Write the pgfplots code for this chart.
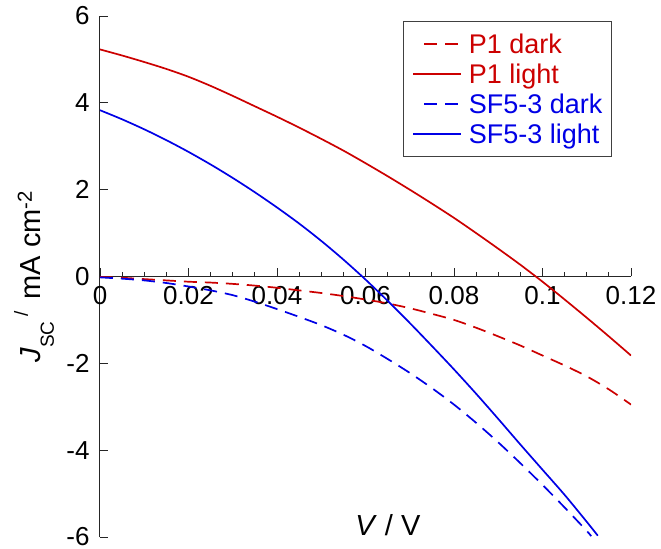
\documentclass[border=0pt]{standalone}
\usepackage{fontspec}
\setmainfont{Liberation Sans}
\usepackage{pgfplots}
\pgfplotsset{compat=1.18}

\definecolor{pred}{RGB}{204,0,0}
\definecolor{sblue}{RGB}{0,0,230}

\begin{document}
\begin{tikzpicture}
\begin{axis}[
    name=ax,
    scale only axis,
    width=531pt, height=521pt,
    xmin=0, xmax=0.12, ymin=-6, ymax=6,
    axis x line*=middle, axis y line*=left,
    axis line style={line width=1pt, black!85},
    hide obscured x ticks=false, hide obscured y ticks=false,
    xtick={0,0.02,0.04,0.06,0.08,0.1,0.12},
    xticklabels={0,0.02,0.04,0.06,0.08,0.1,0.12},
    minor x tick num=3,
    ytick={-6,-4,-2,0,2,4,6},
    yticklabels={-6,-4,-2,0,2,4,6},
    tick align=inside,
    major tick length=8pt, minor tick length=4pt,
    tick style={line width=0.9pt, black!85},
    tick label style={font=\fontsize{26}{30}\selectfont},
    xticklabel style={yshift=-6pt},
    yticklabel style={xshift=-7pt},
    every axis x label/.style={at={(axis description cs:0.542,0.023)}, anchor=center},
    every axis y label/.style={at={(axis description cs:-0.124,0.5)}, rotate=90, anchor=center},
    label style={font=\fontsize{29}{34}\selectfont},
    xlabel={\textit{V} / V},
    ylabel={\textit{J}\raisebox{-0.45em}{\fontsize{19}{19}\selectfont SC}\,%
      \raisebox{0.45em}{\fontsize{19}{19}\selectfont /}\hspace{12pt}mA cm\textsuperscript{-2}},
    legend style={at={(0.964,0.990)}, anchor=north east,
        font=\fontsize{27}{30}\selectfont, draw=black!75, line width=0.8pt,
        inner xsep=9pt, inner ysep=12pt, row sep=9pt,
        nodes={inner sep=0pt},
        /tikz/every odd column/.append style={column sep=7pt}},
    legend cell align=left,
    legend image code/.code={\draw[#1, line width=1.7pt] (0pt,0) -- (48pt,0);},
    every axis plot/.append style={line width=1.7pt, smooth, tension=0.5},
]
\addplot[pred, dash pattern=on 13pt off 8pt,
    legend image post style={dash pattern=on 0pt off 11pt on 13pt off 8pt on 13pt off 3pt}]
  coordinates {
  (0,-0.01) (0.005,-0.03) (0.01,-0.06) (0.015,-0.09) (0.02,-0.12)
  (0.025,-0.14) (0.03,-0.17) (0.035,-0.21) (0.04,-0.26) (0.045,-0.32)
  (0.05,-0.38) (0.055,-0.45) (0.06,-0.53) (0.065,-0.62) (0.07,-0.73)
  (0.075,-0.86) (0.08,-1.00) (0.085,-1.18) (0.09,-1.38) (0.095,-1.59)
  (0.1,-1.82) (0.105,-2.05) (0.11,-2.30) (0.115,-2.60) (0.12,-2.95)
};
\addlegendentry{\textcolor{pred}{P1 dark}}
\addplot[pred]
  coordinates {
  (0,5.23) (0.005,5.09) (0.01,4.94) (0.015,4.78) (0.02,4.60)
  (0.025,4.39) (0.03,4.16) (0.035,3.92) (0.04,3.68) (0.045,3.43)
  (0.05,3.17) (0.055,2.90) (0.06,2.61) (0.065,2.31) (0.07,2.00)
  (0.075,1.68) (0.08,1.35) (0.085,1.00) (0.09,0.64) (0.095,0.27)
  (0.1,-0.12) (0.105,-0.53) (0.11,-0.95) (0.115,-1.38) (0.12,-1.82)
};
\addlegendentry{\textcolor{pred}{P1 light}}
\addplot[sblue, dash pattern=on 13pt off 8pt,
    legend image post style={dash pattern=on 0pt off 11pt on 13pt off 8pt on 13pt off 3pt}]
  coordinates {
  (0,-0.02) (0.005,-0.05) (0.01,-0.09) (0.015,-0.15) (0.02,-0.23)
  (0.025,-0.32) (0.03,-0.43) (0.035,-0.58) (0.04,-0.75) (0.045,-0.93)
  (0.05,-1.12) (0.055,-1.34) (0.06,-1.60) (0.065,-1.90) (0.07,-2.22)
  (0.075,-2.57) (0.08,-2.95) (0.085,-3.37) (0.09,-3.82) (0.095,-4.30)
  (0.1,-4.80) (0.105,-5.32) (0.11,-5.86) (0.111,-5.98)
};
\addlegendentry{\textcolor{sblue}{SF5-3 dark}}
\addplot[sblue]
  coordinates {
  (0,3.83) (0.005,3.62) (0.01,3.39) (0.015,3.14) (0.02,2.87)
  (0.025,2.58) (0.03,2.27) (0.035,1.94) (0.04,1.59) (0.045,1.22)
  (0.05,0.82) (0.055,0.39) (0.06,-0.07) (0.065,-0.56) (0.07,-1.07)
  (0.075,-1.60) (0.08,-2.14) (0.085,-2.70) (0.09,-3.28) (0.095,-3.87)
  (0.1,-4.45) (0.105,-5.03) (0.11,-5.65) (0.1125,-5.97)
};
\addlegendentry{\textcolor{sblue}{SF5-3 light}\hspace{6pt}}
\end{axis}
\pgfresetboundingbox
\path ([xshift=-100pt,yshift=-11pt]ax.south west) rectangle ([xshift=30pt,yshift=16pt]ax.north east);
\end{tikzpicture}
\end{document}
